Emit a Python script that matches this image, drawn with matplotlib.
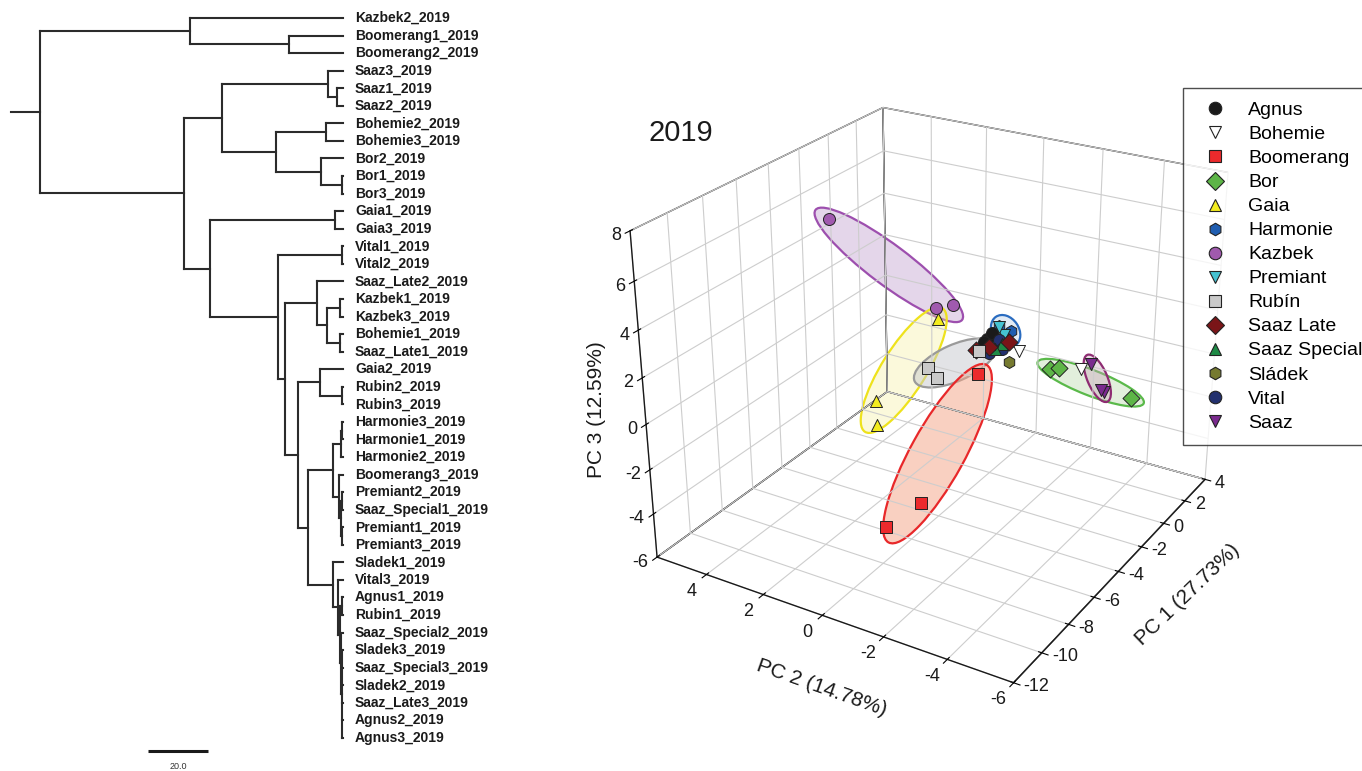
import numpy as np
import matplotlib
matplotlib.use('Agg')
import matplotlib.pyplot as plt
from matplotlib.lines import Line2D
from matplotlib.patches import Ellipse

plt.rcParams['font.family'] = ['Liberation Sans', 'DejaVu Sans']
plt.rcParams['axes.unicode_minus'] = False
plt.rcParams['grid.color'] = '#cdcdcd'
plt.rcParams['grid.linewidth'] = 0.8

# UPGMA tree of the 2019 samples (branch lengths in distance units)
TREE = (
    "((Kazbek2_2019:51,(Boomerang1_2019:18,Boomerang2_2019:18):33):50,"
    "(((Saaz3_2019:5,(Saaz1_2019:2,Saaz2_2019:2):3):35.3,"
    "((Bohemie2_2019:5.7,Bohemie3_2019:5.7):16.6,"
    "(Bor2_2019:7.3,(Bor1_2019:0.3,Bor3_2019:0.3):7):15):18):12.7,"
    "((Gaia1_2019:2.7,Gaia3_2019:2.7):41.6,"
    "((Vital1_2019:0.3,Vital2_2019:0.3):21.4,"
    "((Saaz_Late2_2019:8.7,((Kazbek1_2019:1,Kazbek3_2019:1):4.3,"
    "(Bohemie1_2019:1,Saaz_Late1_2019:1):4.3):3.4):10.6,"
    "((Gaia2_2019:7.7,(Rubin2_2019:0.3,Rubin3_2019:0.3):7.4):7.3,"
    "((((Harmonie3_2019:0.3,Harmonie1_2019:0.3):0.4,Harmonie2_2019:0.7):2.6,"
    "(Boomerang3_2019:1.3,((Premiant2_2019:0.2,Saaz_Special1_2019:0.2):0.5,"
    "(Premiant1_2019:0.4,Premiant3_2019:0.4):0.3):0.6):2):8.4,"
    "(Sladek1_2019:3.3,(Vital3_2019:1.7,((Agnus1_2019:0.3,Rubin1_2019:0.3):0.7,"
    "(Saaz_Special2_2019:0.7,(Sladek3_2019:0.4,Saaz_Special3_2019:0.4,"
    "Sladek2_2019:0.4,Saaz_Late3_2019:0.4,Agnus2_2019:0.4,Agnus3_2019:0.4):0.3)"
    ":0.3):0.7):1.6):8.4):3.3):4.3):2.4):22.6):8.7):48);"
)
ROOT_STUB = 9.7
SCALE_BAR = 20.0

# PCA scores, three replicates per variety
varieties = ['Agnus', 'Bohemie', 'Boomerang', 'Bor', 'Gaia', 'Harmonie', 'Kazbek',
             'Premiant', 'Rubín', 'Saaz Late', 'Saaz Special', 'Sládek', 'Vital', 'Saaz']
pc1 = {
    'Agnus': [0.3, 0.5, 0.1], 'Bohemie': [1.0, 0.6, 2.0], 'Boomerang': [-7.2, -5.7, -0.3],
    'Bor': [2.5, 2.5, 2.9], 'Gaia': [-4.0, -4.3, -1.5], 'Harmonie': [1.0, 1.5, 1.2],
    'Kazbek': [-5.5, -1.5, -1.5], 'Premiant': [0.8, 1.0, 0.4], 'Rubín': [-2.0, -2.0, -0.3],
    'Saaz Late': [-0.5, 1.2, 0.2], 'Saaz Special': [0.3, 0.7, 0.0], 'Sládek': [0.5, 0.5, 0.5],
    'Vital': [0.0, 0.6, 0.7], 'Saaz': [2.8, 2.8, 2.9],
}
pc2 = {
    'Agnus': [0.28, 0.19, 0.29], 'Bohemie': [-0.54, -0.01, -2.32], 'Boomerang': [0.3, -0.2, 0.33],
    'Bor': [-1.04, -1.35, -3.7], 'Gaia': [2.2, 2.0, 1.2], 'Harmonie': [0.17, -0.04, -0.03],
    'Kazbek': [2.9, 1.24, 0.67], 'Premiant': [0.08, -0.01, 0.07], 'Rubín': [1.29, 0.98, 0.29],
    'Saaz Late': [0.31, -0.1, 0.16], 'Saaz Special': [-0.01, -0.07, 0.07], 'Sládek': [-0.41, 0.12, -0.06],
    'Vital': [0.07, -0.12, 0.03], 'Saaz': [-2.35, -2.73, -2.8],
}
pc3 = {
    'Agnus': [0.17, 0.43, 0.13], 'Bohemie': [-0.4, 0.23, -1.08], 'Boomerang': [-4.9, -4.4, -1.19],
    'Bor': [-1.74, -1.61, -2.4], 'Gaia': [-1.45, -2.35, 1.55], 'Harmonie': [0.55, 0.15, -0.16],
    'Kazbek': [6.95, 2.05, 2.35], 'Premiant': [0.59, 0.16, 0.0], 'Rubín': [-0.5, -0.83, -0.13],
    'Saaz Late': [0.01, -0.22, -0.1], 'Saaz Special': [-0.17, -0.12, 0.17], 'Sládek': [-0.75, 0.13, -0.12],
    'Vital': [-0.24, -0.28, 0.07], 'Saaz': [-1.19, -2.31, -2.42],
}

pc1_ticks = np.arange(-12, 5, 2)
pc2_ticks = np.arange(-6, 5, 2)
pc3_ticks = np.arange(-6, 9, 2)

markers = {
    'Agnus': ('o', '#1a1a1a'), 'Bohemie': ('v', '#ffffff'), 'Boomerang': ('s', '#ec2a2c'),
    'Bor': ('D', '#5db547'), 'Gaia': ('^', '#f3ec1f'), 'Harmonie': ('h', '#1f5db0'),
    'Kazbek': ('o', '#a05aae'), 'Premiant': ('v', '#45c2d2'), 'Rubín': ('s', '#c9c9c9'),
    'Saaz Late': ('D', '#7a1518'), 'Saaz Special': ('^', '#1e8a45'), 'Sládek': ('h', '#767a30'),
    'Vital': ('o', '#22306e'), 'Saaz': ('v', '#7a2a8e'),
}
# edge, fill, fill alpha, padding along / across the long axis (px)
ellipses = {
    'Kazbek': ('#9d4fae', '#b48cc4', 0.35, 16, 14),
    'Gaia': ('#eee21c', '#f5ee9a', 0.35, 12, 15),
    'Rubín': ('#9a9a9a', '#c6c9cf', 0.5, 18, 12),
    'Boomerang': ('#e8282a', '#f4a385', 0.5, 12, 17),
    'Harmonie': ('#2a6cc0', '#b7cde8', 0.4, 9, 9),
    'Bor': ('#5ab94a', '#b7d7a8', 0.4, 14, 11),
    'Saaz': ('#8e2c72', '#c9a3bb', 0.4, 10, 9),
}


def parse_newick(s):
    pos = 0

    def node():
        nonlocal pos
        kids = []
        if s[pos] == '(':
            pos += 1
            while True:
                kids.append(node())
                ch = s[pos]
                pos += 1
                if ch == ')':
                    break
        start = pos
        while s[pos] not in ':,);':
            pos += 1
        name = s[start:pos]
        length = 0.0
        if s[pos] == ':':
            pos += 1
            start = pos
            while s[pos] not in ',);':
                pos += 1
            length = float(s[start:pos])
        return {'name': name, 'len': length, 'kids': kids}

    return node()


leaves = []


def layout(n, depth):
    n['x'] = depth + n['len']
    if n['kids']:
        for k in n['kids']:
            layout(k, n['x'])
        n['y'] = (n['kids'][0]['y'] + n['kids'][-1]['y']) / 2
    else:
        n['y'] = len(leaves)
        leaves.append(n)


W, H = 1362, 771
fig = plt.figure(figsize=(W / 100, H / 100), dpi=100)
fig.patch.set_facecolor('white')

# ---- dendrogram ----
axt = fig.add_axes([0, 0, 500 / W, 1])
axt.set_axis_off()
axt.set_xlim(-40 / 3, 460 / 3)
axt.set_ylim((H - 18) / 17.56, -18 / 17.56)

root = parse_newick(TREE)
layout(root, 0.0)
tree_kw = dict(color='#2b2b2b', lw=1.5, solid_capstyle='projecting')


def draw_node(n):
    if not n['kids']:
        axt.text(n['x'] + 4, n['y'], n['name'], fontsize=10, fontweight='bold',
                 va='center', ha='left', color='#1a1a1a')
        return
    axt.plot([n['x'], n['x']], [n['kids'][0]['y'], n['kids'][-1]['y']], **tree_kw)
    for k in n['kids']:
        axt.plot([n['x'], k['x']], [k['y'], k['y']], **tree_kw)
        draw_node(k)


draw_node(root)
axt.plot([-ROOT_STUB, 0], [root['y'], root['y']], **tree_kw)
bar_y = len(leaves) - 1 + 0.75
axt.plot([36, 36 + SCALE_BAR], [bar_y, bar_y], color='#1a1a1a', lw=2.2, solid_capstyle='butt')
axt.text(36 + SCALE_BAR / 2, bar_y + 0.9, f'{SCALE_BAR:.1f}', fontsize=6.5,
         ha='center', va='center', color='#333333')

# ---- PCA 3D ----
ov = fig.add_axes([0, 0, 1, 1], zorder=0)
ov.set_xlim(0, W)
ov.set_ylim(0, H)
ov.set_axis_off()

ax = fig.add_axes([541 / W, 5 / H, 780 / W, 780 / H], projection='3d', zorder=1)
ax.patch.set_alpha(0)
ax.set_proj_type('persp', focal_length=0.42)
ax.view_init(elev=26, azim=-149)
ax.set_box_aspect((1.05, 1.0, 0.86), zoom=0.857)
ax.set_xlim(-12, 4)
ax.set_ylim(-6, 5.8)
ax.set_zlim(-6, 8)
ax.set_xticks(pc1_ticks)
ax.set_yticks(pc2_ticks)
ax.set_zticks(pc3_ticks)
ax.set_xticklabels([])
ax.set_yticklabels([])
ax.set_zticklabels([])
for axis in (ax.xaxis, ax.yaxis, ax.zaxis):
    axis.set_pane_color((1, 1, 1, 0))
    # transparent pane face, but keep a dark box outline
    axis.pane.set_alpha(None)
    axis.pane.set_facecolor((1, 1, 1, 0))
    axis.pane.set_edgecolor('#1a1a1a')
    axis.pane.set_linewidth(1.0)
    axis.line.set_color('#1a1a1a')
    axis.line.set_linewidth(1.0)

for name in varieties:
    m, c = markers[name]
    ax.scatter(pc1[name], pc2[name], pc3[name], marker=m, s=75, c=c,
               edgecolors='#222222', linewidths=0.7, depthshade=False, alpha=1)

fig.canvas.draw()
M = ax.get_proj()


def to_pixels(xs, ys, zs):
    pts = np.vstack([xs, ys, zs, np.ones(len(xs))])
    p = M @ pts
    p = p[:2] / p[3]
    return ax.transData.transform(p.T)


# tick labels placed next to the box edges, MATLAB style
tick_kw = dict(fontsize=13, color='#1a1a1a', transform=None)
n1 = len(pc1_ticks)
for (px, py), t in zip(to_pixels(pc1_ticks, np.full(n1, -6.0), np.full(n1, -6.0)), pc1_ticks):
    fig.text(px + 10, py - 4, f'{t:d}', ha='left', va='center', **tick_kw)
n2 = len(pc2_ticks)
for (px, py), t in zip(to_pixels(np.full(n2, -12.0), pc2_ticks, np.full(n2, -6.0)), pc2_ticks):
    fig.text(px - 15, py - 17, f'{t:d}', ha='center', va='center', **tick_kw)
n3 = len(pc3_ticks)
for (px, py), t in zip(to_pixels(np.full(n3, -12.0), np.full(n3, 5.8), pc3_ticks), pc3_ticks):
    fig.text(px - 9, py - 5, f'{t:d}', ha='right', va='center', **tick_kw)

lab_kw = dict(fontsize=15, color='#1a1a1a', ha='center', va='center', rotation_mode='anchor')
fig.text(596 / W, 1 - 410 / H, 'PC 3 (12.59%)', rotation=90, **lab_kw)
fig.text(822 / W, 1 - 688 / H, 'PC 2 (14.78%)', rotation=-19.5, **lab_kw)
fig.text(1188 / W, 1 - 595 / H, 'PC 1 (27.73%)', rotation=44, **lab_kw)

for name, (edge, face, alpha, pad_a, pad_b) in ellipses.items():
    pix = to_pixels(pc1[name], pc2[name], pc3[name])
    cen = pix.mean(axis=0)
    d = pix - cen
    _, vecs = np.linalg.eigh(d.T @ d)
    major, minor = vecs[:, 1], vecs[:, 0]
    a, b = d @ major, d @ minor
    centre = cen + major * (a.max() + a.min()) / 2 + minor * (b.max() + b.min()) / 2
    width = (a.max() - a.min()) + 2 * pad_a
    height = (b.max() - b.min()) + 2 * pad_b
    angle = np.degrees(np.arctan2(major[1], major[0]))
    ov.add_patch(Ellipse(centre, width, height, angle=angle, facecolor=face,
                         alpha=alpha, edgecolor='none'))
    ov.add_patch(Ellipse(centre, width, height, angle=angle, facecolor='none',
                         edgecolor=edge, lw=1.6))

fig.text(648 / W, 1 - 133 / H, '2019', fontsize=21, va='center', ha='left', color='#1a1a1a')

handles = [Line2D([], [], ls='none', marker=markers[n][0], markerfacecolor=markers[n][1],
                  markeredgecolor='#222222', markeredgewidth=0.8, markersize=9)
           for n in varieties]
leg = fig.legend(handles, varieties, loc='upper left', bbox_to_anchor=(1183 / W, 1 - 88 / H),
                 borderaxespad=0, frameon=True, fancybox=False, fontsize=14,
                 labelspacing=0.33, handlelength=1.9, handletextpad=0.75, borderpad=0.7)
leg.get_frame().set_edgecolor('#222222')
leg.get_frame().set_linewidth(1.0)

fig.savefig('out.png', dpi=100)
